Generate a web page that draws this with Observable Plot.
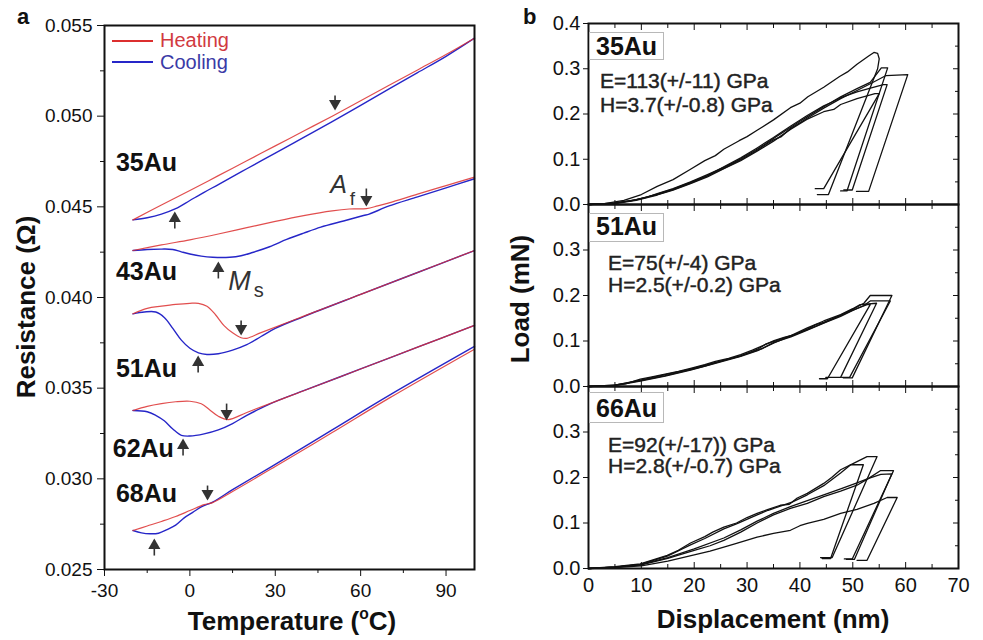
<!DOCTYPE html>
<html><head><meta charset="utf-8">
<script src="https://cdn.jsdelivr.net/npm/d3@7"></script>
<script src="https://cdn.jsdelivr.net/npm/@observablehq/plot@0.6"></script>
<style>
html,body{margin:0;padding:0;background:#fff;}
#root{position:relative;width:983px;height:640px;overflow:hidden;font-family:"Liberation Sans",Arial,sans-serif;color:#111;}
.pane{position:absolute;}
.t{position:absolute;white-space:nowrap;line-height:1;}
.box{position:absolute;border:1px solid #b8b8b8;box-sizing:border-box;}
</style></head><body><div id="root"></div>
<script>
const FONT = "'Liberation Sans', Arial, sans-serif";
const RED = "#dc2f2f", BLUE = "#2626c8", INK = "#111";

// ---------- Panel a: resistance vs temperature ----------
const samples = ["35Au", "43Au", "51Au", "62Au", "68Au"];
const heating35 = [[-20,0.04428],[-10,0.0451],[0,0.0459],[10,0.04672],[20,0.04754],[30,0.04836],[40,0.04918],[50,0.0500],[60,0.05085],[70,0.0517],[80,0.05255],[90,0.0534],[100,0.0543]];
const cooling35 = [[-20,0.04428],[-15,0.0444],[-10,0.0446],[-5,0.0449],[0,0.04535],[5,0.0458],[10,0.04623],[15,0.04667],[20,0.0471],[25,0.04753],[30,0.04796],[40,0.04883],[50,0.0497],[60,0.0506],[70,0.0515],[80,0.0524],[90,0.0533],[100,0.0543]];
const heating43 = [[-20,0.04259],[-10,0.0429],[0,0.04318],[10,0.0435],[20,0.04385],[30,0.0442],[40,0.04452],[50,0.04478],[56,0.04488],[62,0.0449],[66,0.04505],[70,0.04522],[80,0.0457],[90,0.04617],[100,0.04664]];
const cooling43 = [[-20,0.04259],[-15,0.04265],[-10,0.04267],[-6,0.04265],[-3,0.04252],[0,0.0424],[4,0.04228],[8,0.04222],[14,0.04222],[18,0.0423],[22,0.04248],[28,0.0428],[34,0.0432],[40,0.04355],[46,0.04388],[54,0.04422],[61,0.04452],[63,0.0446],[70,0.04505],[80,0.04555],[90,0.04605],[100,0.04655]];
const heating51 = [[-20,0.0391],[-15,0.0394],[-10,0.03952],[-5,0.03962],[0,0.03968],[3,0.03968],[6,0.03952],[9,0.03905],[12,0.03845],[15,0.03805],[18,0.03778],[20,0.03775],[25,0.03806],[40,0.03897],[60,0.04017],[80,0.04138],[100,0.04259]];
const cooling51 = [[-20,0.0391],[-16,0.0392],[-12,0.0392],[-9,0.0389],[-6,0.0383],[-3,0.03765],[0,0.0372],[3,0.03695],[6,0.03686],[10,0.0369],[15,0.0371],[20,0.0374],[25,0.03785],[30,0.0383],[40,0.03895],[60,0.04017],[80,0.04138],[100,0.04259]];
const heating62 = [[-20,0.03377],[-15,0.034],[-10,0.03415],[-5,0.03425],[0,0.03428],[4,0.03414],[7,0.0338],[10,0.03345],[13.5,0.03327],[20,0.03366],[40,0.03486],[60,0.03606],[80,0.03726],[100,0.03846]];
const cooling62 = [[-20,0.03377],[-15,0.0337],[-12,0.0335],[-9,0.0332],[-6,0.03275],[-3,0.0324],[0,0.03236],[5,0.03248],[10,0.0327],[15,0.03305],[20,0.0335],[25,0.0339],[30,0.03426],[40,0.03486],[60,0.03606],[80,0.03726],[100,0.03846]];
const heating68 = [[-20,0.02715],[-15,0.0274],[-10,0.02765],[-5,0.02792],[0,0.02825],[5,0.02858],[8,0.02869],[15,0.0293],[30,0.03068],[50,0.03255],[70,0.03445],[100,0.03715]];
const cooling68 = [[-20,0.02715],[-17,0.02702],[-14,0.02697],[-11,0.027],[-8,0.0272],[-5,0.02745],[-2,0.02785],[1,0.02815],[4,0.02845],[8,0.02872],[15,0.0294],[30,0.0308],[50,0.0327],[70,0.0346],[100,0.0373]];

const heatingAll = [heating35, heating43, heating51, heating62, heating68];
const coolingAll = [cooling35, cooling43, cooling51, cooling62, cooling68];

// transformation arrows (temperature, tip, tail)
const arrowSample = ["35Au","35Au","43Au","43Au","51Au","51Au","62Au","62Au","68Au","68Au"];
const arrowT    = [51, -5.3, 62, 10, 18, 2.9, 12.9, -2.4, 6.2, -12.5];
const arrowTip  = [0.05042, 0.04463, 0.04513, 0.04188, 0.03801, 0.03669, 0.03333, 0.03211, 0.02892, 0.0266];
const arrowTail = [0.05114, 0.0438, 0.04601, 0.04105, 0.03873, 0.03586, 0.03415, 0.03129, 0.02963, 0.02577];

// sample labels anchored in data space
const labelT = [-26, -26, -26, -27.1, -26];
const labelR = [0.04739, 0.04138, 0.03608, 0.03167, 0.02919];

// A_f and M_s annotations
const symText = ["A", "M"], symT = [49.3, 13.5], symR = [0.04579, 0.04039], symSize = [25, 27];
const subText = ["f", "s"], subT = [56.2, 22.4], subR = [0.04512, 0.04003], subSize = [19, 20];

const xTicksA = [-30, 0, 30, 60, 90];
const xMinorA = [-15, 15, 45, 75];
const yTicksA = [0.025, 0.030, 0.035, 0.040, 0.045, 0.050, 0.055];
const yMinorA = [0.0275, 0.0325, 0.0375, 0.0425, 0.0475, 0.0525];

const toRows = (all, mode) => all.flatMap((arr, i) => arr.map(([T, R]) => ({sample: samples[i], mode, T, R})));
const heatRows = toRows(heatingAll, "Heating");
const coolRows = toRows(coolingAll, "Cooling");
const arrows = arrowSample.map((s, i) => ({sample: s, T: arrowT[i], tip: arrowTip[i], tail: arrowTail[i]}));
const labels = samples.map((s, i) => ({name: s, T: labelT[i], R: labelR[i]}));
const syms = symText.map((s, i) => ({s, T: symT[i], R: symR[i], size: symSize[i]}));
const subs = subText.map((s, i) => ({s, T: subT[i], R: subR[i], size: subSize[i]}));

const blank = () => "";
const svgStyle = `overflow:visible;background:transparent;font-family:${FONT};`;

const plotA = Plot.plot({
  width: 490, height: 640,
  marginLeft: 104, marginRight: 16, marginTop: 25, marginBottom: 71,
  style: svgStyle,
  x: {domain: [-30, 100]},
  y: {domain: [0.025, 0.055]},
  marks: [
    Plot.axisY(yTicksA, {anchor: "left", tickSize: 7, tickPadding: 5, fontSize: 19, tickFormat: d3.format(".3f"), label: null}),
    Plot.axisY(yMinorA, {anchor: "left", tickSize: 4, tickFormat: blank, label: null}),
    Plot.axisX(xTicksA, {anchor: "bottom", tickSize: 7, tickPadding: 7, fontSize: 19, tickFormat: d => `${d}`, label: null}),
    Plot.axisX(xMinorA, {anchor: "bottom", tickSize: 4, tickFormat: blank, label: null}),
    Plot.line(coolRows, {x: "T", y: "R", z: "sample", stroke: BLUE, strokeWidth: 1.4, curve: "catmull-rom"}),
    Plot.line(heatRows, {x: "T", y: "R", z: "sample", stroke: RED, strokeWidth: 1.2, strokeOpacity: 0.85, curve: "catmull-rom"}),
    Plot.link(arrows, {x1: "T", x2: "T", y1: "tail", y2: "tip", stroke: "#333", strokeWidth: 1.6}),
    Plot.dot(arrows.filter(d => d.tip < d.tail), {x: "T", y: "tip", symbol: "triangle", r: 4.5, fill: "#333", rotate: 180, dy: -5}),
    Plot.dot(arrows.filter(d => d.tip > d.tail), {x: "T", y: "tip", symbol: "triangle", r: 4.5, fill: "#333", rotate: 0, dy: 5}),
    Plot.text(labels, {x: "T", y: "R", text: "name", textAnchor: "start", lineAnchor: "middle", fontSize: 25, fontWeight: "bold", fill: INK}),
    Plot.text(syms, {x: "T", y: "R", text: "s", textAnchor: "start", lineAnchor: "bottom", fontSize: "size", fontStyle: "italic", fill: "#333"}),
    Plot.text(subs, {x: "T", y: "R", text: "s", textAnchor: "start", lineAnchor: "bottom", fontSize: "size", fill: "#333"}),
    Plot.frame({stroke: INK, strokeWidth: 2})
  ]
});

// ---------- Panel b: nanoindentation load-displacement ----------
const c35a = [[0,0],[3,0.002],[6.7,0.009],[10,0.022],[13,0.04],[16,0.055],[19.3,0.078],[22,0.097],[24,0.108],[25.6,0.122],[28.5,0.141],[30,0.15],[31.9,0.164],[35,0.187],[38.2,0.214],[40,0.224],[41.5,0.238],[44.5,0.259],[47.5,0.283],[49,0.293],[50.8,0.31],[53,0.328],[54,0.336],[54.7,0.334],[55,0.322],[54.7,0.3],[45.4,0.022],[43.3,0.022]];
const c35b = [[0,0],[4,0.002],[8,0.008],[11,0.016],[13,0.024],[16,0.035],[19.3,0.05],[22.5,0.066],[25.6,0.082],[27,0.09],[28.8,0.101],[31.9,0.122],[33.5,0.134],[35,0.146],[38.2,0.17],[40,0.184],[41.3,0.193],[44.5,0.216],[47.7,0.238],[50.8,0.256],[53.3,0.27],[55.4,0.302],[56.6,0.302],[48.9,0.03],[47.7,0.03]];
const c35c = [[0,0],[5,0.003],[9,0.011],[13,0.022],[16,0.033],[19.3,0.047],[22.5,0.063],[25.6,0.08],[28.8,0.099],[31.9,0.12],[35,0.143],[36.5,0.15],[38.2,0.168],[41.3,0.19],[44.5,0.213],[47.7,0.234],[50.8,0.252],[53.5,0.268],[56.3,0.285],[60.4,0.287],[53.0,0.029],[50.7,0.029]];
const c35d = [[0,0],[5,0.003],[9,0.01],[13,0.023],[16,0.034],[19.3,0.049],[22.5,0.064],[25.6,0.083],[28.8,0.103],[31.9,0.125],[35,0.148],[38.2,0.173],[41.3,0.196],[44.5,0.218],[46,0.226],[47.7,0.236],[50.8,0.249],[53.5,0.258],[55.8,0.265],[56.5,0.265],[49.9,0.032],[48.3,0.032]];
const c35e = [[0,0],[5,0.002],[9,0.009],[13,0.021],[16,0.032],[19.3,0.046],[22.5,0.061],[25.6,0.079],[28.8,0.097],[31.9,0.118],[35,0.14],[38.2,0.166],[41.3,0.188],[44.5,0.205],[46.4,0.21],[47.7,0.221],[50.8,0.234],[54.2,0.245],[55,0.245],[44.5,0.035],[42.9,0.035]];

const c51a = [[0,0],[4,0.002],[7,0.006],[9.8,0.016],[12,0.021],[14.5,0.027],[17,0.033],[19.3,0.04],[22,0.048],[24,0.055],[26.5,0.062],[28.8,0.07],[31,0.08],[33,0.09],[35.1,0.101],[37,0.108],[39,0.114],[41.4,0.126],[43,0.136],[44.5,0.141],[47.7,0.157],[50,0.17],[52.1,0.183],[53.3,0.2],[57.4,0.2],[49.9,0.019],[48.2,0.019]];
const c51b = [[0,0],[5,0.003],[9.8,0.013],[14.5,0.024],[19.3,0.037],[22,0.045],[24,0.052],[28.8,0.068],[31,0.076],[33,0.084],[35.1,0.097],[38.3,0.109],[41.4,0.124],[44.5,0.139],[47.7,0.154],[50,0.167],[52.1,0.178],[53.3,0.188],[57.1,0.188],[49.4,0.02],[47.9,0.02]];
const c51c = [[0,0],[5,0.003],[9.8,0.014],[14.5,0.026],[19.3,0.038],[24,0.053],[28.8,0.067],[32,0.082],[33.5,0.093],[35.1,0.099],[38.3,0.112],[41.4,0.129],[44.5,0.144],[47.7,0.158],[50,0.171],[51.4,0.18],[54.5,0.183],[47.7,0.02],[44.9,0.02]];
const c51d = [[0,0],[5,0.002],[9.8,0.012],[14.5,0.023],[19.3,0.036],[24,0.051],[28.8,0.066],[32,0.079],[35.1,0.096],[38.3,0.111],[41.4,0.125],[44.5,0.14],[47.7,0.156],[50,0.168],[52.7,0.18],[53.3,0.18],[45.2,0.017],[43.7,0.017]];

const c66a = [[0,0],[5,0.004],[9.8,0.01],[14.9,0.029],[17,0.04],[19.3,0.056],[22,0.07],[23.5,0.08],[25.6,0.091],[28,0.1],[30,0.112],[31.9,0.121],[34,0.13],[36.3,0.139],[38,0.141],[39.5,0.155],[41.4,0.165],[44.5,0.187],[46,0.2],[47.7,0.217],[50.8,0.235],[52.7,0.246],[54.6,0.246],[46.1,0.024],[43.9,0.024]];
const c66b = [[0,0],[5,0.003],[9.8,0.009],[14.9,0.027],[19.3,0.052],[22,0.066],[25.6,0.087],[28,0.098],[31.9,0.118],[34,0.128],[36.3,0.137],[38.5,0.146],[41.4,0.162],[44.5,0.182],[47.7,0.21],[49.6,0.228],[52,0.228],[45.8,0.022],[44.2,0.022]];
const c66c = [[0,0],[5,0.003],[10,0.008],[15,0.022],[20,0.04],[23,0.05],[25.6,0.062],[28.8,0.08],[31.9,0.1],[35,0.118],[38.2,0.132],[41.4,0.143],[44.5,0.158],[47.7,0.17],[50.8,0.183],[53,0.198],[55.2,0.215],[57.7,0.215],[49.9,0.021],[48.4,0.021]];
const c66d = [[0,0],[5,0.003],[10,0.009],[15,0.024],[20,0.043],[25.6,0.067],[28.8,0.085],[31.9,0.104],[35,0.121],[38.2,0.136],[41.4,0.149],[44.5,0.162],[47.7,0.175],[50.8,0.188],[53,0.198],[55.3,0.207],[57.4,0.208],[50.3,0.02],[48.8,0.02]];
const c66e = [[0,0],[5,0.002],[10,0.006],[15,0.016],[20,0.03],[23,0.038],[25.6,0.047],[28,0.055],[31.9,0.069],[35,0.077],[38.2,0.084],[40,0.094],[41.4,0.099],[44.5,0.108],[47.7,0.121],[50.8,0.13],[54,0.143],[56.5,0.156],[58.4,0.156],[52.7,0.018],[50.8,0.018]];

const panelNames = ["35Au", "51Au", "66Au"];
const panelCurves = [[c35a, c35b, c35c, c35d, c35e], [c51a, c51b, c51c, c51d], [c66a, c66b, c66c, c66d, c66e]];
const modulusText = ["E=113(+/-11) GPa", "E=75(+/-4) GPa", "E=92(+/-17)) GPa"];
const hardnessText = ["H=3.7(+/-0.8) GPa", "H=2.5(+/-0.2) GPa", "H=2.8(+/-0.7) GPa"];

const xTicksB = [0, 10, 20, 30, 40, 50, 60, 70];
const xMinorB = [5, 15, 25, 35, 45, 55, 65];
const yTicksTop = [0, 0.1, 0.2, 0.3, 0.4];
const yTicksLow = [0, 0.1, 0.2, 0.3];
const yInnerB = [0.1, 0.2, 0.3];
const yMinorB = [0.05, 0.15, 0.25, 0.35];

function indentPanel(k, height, marginTop, marginBottom, showX) {
  const rows = panelCurves[k].flatMap((c, j) => c.map(([d, P]) => ({curve: j, d, P})));
  return Plot.plot({
    width: 493, height, marginLeft: 98, marginRight: 25, marginTop, marginBottom,
    style: svgStyle,
    x: {domain: [0, 70]},
    y: {domain: [0, 0.4]},
    marks: [
      Plot.axisY(k === 0 ? yTicksTop : yTicksLow, {anchor: "left", tickSize: 5, tickPadding: 3, fontSize: 20, tickFormat: d3.format(".1f"), label: null}),
      Plot.axisY(yInnerB, {anchor: "right", tickSize: -6, tickFormat: blank, label: null}),
      Plot.axisY(yMinorB, {anchor: "right", tickSize: -4, tickFormat: blank, label: null}),
      Plot.axisX(xTicksB.slice(1, -1), {anchor: "bottom", tickSize: -6, tickFormat: blank, label: null}),
      Plot.axisX(xMinorB, {anchor: "bottom", tickSize: -4, tickFormat: blank, label: null}),
      Plot.axisX(xTicksB.slice(1, -1), {anchor: "top", tickSize: -6, tickFormat: blank, label: null}),
      Plot.axisX(xMinorB, {anchor: "top", tickSize: -4, tickFormat: blank, label: null}),
      showX ? Plot.axisX(xTicksB, {anchor: "bottom", tickSize: 0, tickPadding: 9, fontSize: 20, tickFormat: d => `${d}`, label: null}) : null,
      Plot.line(rows, {x: "d", y: "P", z: "curve", stroke: INK, strokeWidth: 1.3}),
      Plot.frame({stroke: INK, strokeWidth: 2})
    ]
  });
}

const root = document.getElementById("root");
function place(node, left, top) {
  const wrap = document.createElement("div");
  wrap.className = "pane";
  wrap.style.left = left + "px";
  wrap.style.top = top + "px";
  wrap.appendChild(node);
  root.appendChild(wrap);
}
place(plotA, 0, 0);
place(indentPanel(0, 204, 23, 0, false), 490, 0);
place(indentPanel(1, 182, 0, 0, false), 490, 204);
place(indentPanel(2, 254, 0, 72, true), 490, 386);

function addText(html, x, baseline, fs, opts = {}) {
  const d = document.createElement("div");
  d.className = "t";
  d.innerHTML = html;
  d.style.fontSize = fs + "px";
  d.style.left = x + "px";
  d.style.top = (baseline - 0.8465 * fs) + "px";
  if (opts.weight) d.style.fontWeight = opts.weight;
  if (opts.color) d.style.color = opts.color;
  if (opts.stroke) d.style.webkitTextStroke = opts.stroke;
  if (opts.center) d.style.transform = "translateX(-50%)";
  root.appendChild(d);
  return d;
}
function addRot(html, cx, cy, fs) {
  const d = document.createElement("div");
  d.className = "t";
  d.innerHTML = html;
  d.style.fontSize = fs + "px";
  d.style.fontWeight = "bold";
  d.style.left = cx + "px";
  d.style.top = cy + "px";
  d.style.transform = "translate(-50%,-50%) rotate(-90deg)";
  root.appendChild(d);
}
function addLine(x1, x2, y, color) {
  const d = document.createElement("div");
  d.style.cssText = `position:absolute;left:${x1}px;top:${y - 0.6}px;width:${x2 - x1}px;height:1.3px;background:${color};`;
  root.appendChild(d);
}
function addBox(l, t, w, h) {
  const d = document.createElement("div");
  d.className = "box";
  d.style.cssText += `left:${l}px;top:${t}px;width:${w}px;height:${h}px;`;
  root.appendChild(d);
}

// panel letters
addText("a", 17, 25, 22, {weight: "bold"});
addText("b", 523, 25, 22, {weight: "bold"});

// legend (panel a)
addLine(112, 153, 41, RED);
addText("Heating", 160, 47, 20, {color: "#d13a3f"});
addLine(112, 153, 62, BLUE);
addText("Cooling", 160, 69, 20, {color: "#3a3aa6"});

// axis titles
addText("Temperature (<sup style='font-size:0.6em;vertical-align:0.7em;line-height:0'>o</sup>C)", 292, 630, 26, {weight: "bold", center: true});
addRot("Resistance (&Omega;)", 26, 307, 26);
addText("Displacement (nm)", 773, 628, 26, {weight: "bold", center: true});
addRot("Load (mN)", 520, 299, 26);

// panel b annotations
const boxTop = [32, 213, 392], boxH = [28, 29, 31];
const nameBase = [55, 235, 417];
const eBase = [88, 270, 452], hBase = [112, 292, 473], eLeft = [600, 608, 608];
panelNames.forEach((n, i) => {
  addBox(589, boxTop[i], 75, boxH[i]);
  addText(n, 596, nameBase[i], 25, {weight: "bold"});
  addText(modulusText[i], eLeft[i], eBase[i], 21, {color: "#222", stroke: "0.45px #222"});
  addText(hardnessText[i], eLeft[i], hBase[i], 21, {color: "#222", stroke: "0.45px #222"});
});
</script></body></html>
